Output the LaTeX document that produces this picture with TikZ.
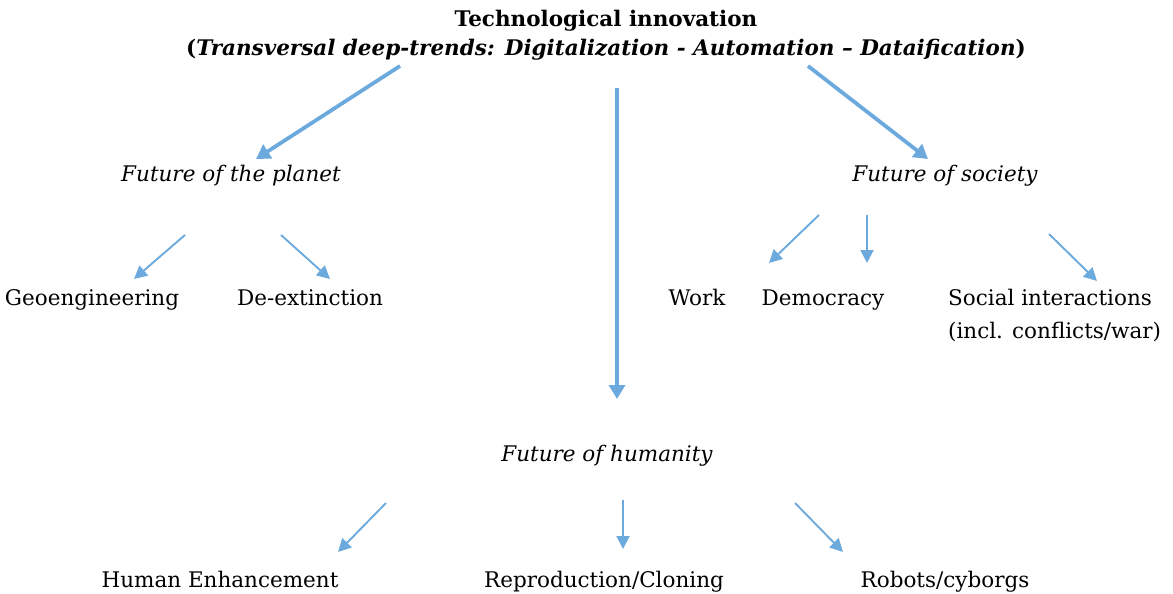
\documentclass[tikz,border=0pt]{standalone}
\usepackage{fontspec}
\setmainfont{DejaVu Serif}
\usetikzlibrary{arrows.meta}
\definecolor{arrowblue}{RGB}{108,170,222}
\begin{document}
\begin{tikzpicture}[x=1pt,y=-1pt,
  lbl/.style={inner sep=0pt,anchor=base,font=\fontsize{21.5}{33}\selectfont},
  ilbl/.style={lbl,font=\fontsize{21.5}{33}\selectfont\itshape},
  blbl/.style={lbl,font=\fontsize{21.5}{33}\selectfont\bfseries},
  bigarrow/.style={draw=arrowblue,line width=3.8pt,-{Triangle[width=16pt,length=14pt]}},
  thinarrow/.style={draw=arrowblue,line width=1.9pt,-{Triangle[width=13pt,length=13pt]}}]
\useasboundingbox (0,0) rectangle (1173,594);
% title
\node[blbl] (title) at (606,27) {Technological innovation};
\node[blbl] (trends) at (606,56)
  {(\textit{Transversal deep-trends: Digitalization - Automation – Dataification})};
% second level
\node[ilbl] (planet) at (231,181) {Future of the planet};
\node[ilbl] (society) at (945,181) {Future of society};
\node[ilbl] (humanity) at (607,461) {Future of humanity};
% leaves
\node[lbl] (geo) at (92,305) {Geoengineering};
\node[lbl] (deext) at (310,305) {De-extinction};
\node[lbl] (work) at (697,305) {Work};
\node[lbl] (democ) at (823,305) {Democracy};
\node[lbl,align=left,anchor=base west] (social) at (948,338) {Social interactions\\(incl. conflicts/war)};
\node[lbl] (enh) at (220,587) {Human Enhancement};
\node[lbl] (clon) at (604,587) {Reproduction/Cloning};
\node[lbl] (robot) at (945,587) {Robots/cyborgs};
% arrow end points
\coordinate (tL) at (400,66);  \coordinate (pT) at (256,159);
\coordinate (tM) at (617,88);  \coordinate (hT) at (617,399);
\coordinate (tR) at (808,66);  \coordinate (sT) at (928,159);
\coordinate (pA) at (185,235); \coordinate (geoT) at (134,279);
\coordinate (pB) at (281,235); \coordinate (deT) at (330,279);
\coordinate (sA) at (819,215); \coordinate (workT) at (769,263);
\coordinate (sB) at (867,215); \coordinate (demT) at (867,263);
\coordinate (sC) at (1049,234); \coordinate (socT) at (1097,281);
\coordinate (hA) at (386,503); \coordinate (enhT) at (338,552);
\coordinate (hB) at (623,500); \coordinate (clonT) at (623,549);
\coordinate (hC) at (795,503); \coordinate (robT) at (843,552);
% arrows
\draw[bigarrow] (tL) -- (pT);
\draw[bigarrow] (tM) -- (hT);
\draw[bigarrow] (tR) -- (sT);
\draw[thinarrow] (pA) -- (geoT);
\draw[thinarrow] (pB) -- (deT);
\draw[thinarrow] (sA) -- (workT);
\draw[thinarrow] (sB) -- (demT);
\draw[thinarrow] (sC) -- (socT);
\draw[thinarrow] (hA) -- (enhT);
\draw[thinarrow] (hB) -- (clonT);
\draw[thinarrow] (hC) -- (robT);
\end{tikzpicture}
\end{document}
